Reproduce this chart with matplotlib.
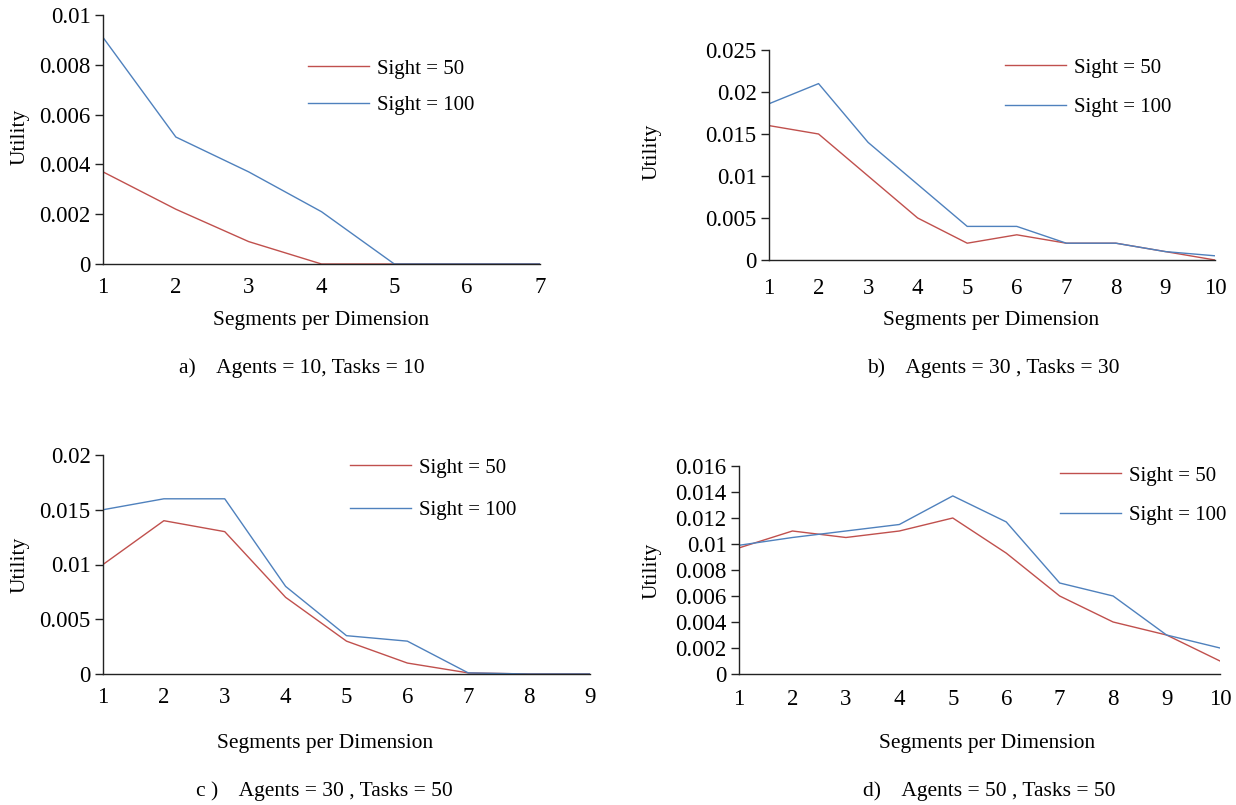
import matplotlib
matplotlib.use("Agg")
import matplotlib.pyplot as plt
from matplotlib.ticker import FixedLocator, FixedFormatter

plt.rcParams['font.family'] = ['Liberation Serif', 'DejaVu Serif']

RED = '#C0504D'
BLUE = '#4F81BD'

# Panel a: Agents = 10, Tasks = 10
a_x = [1, 2, 3, 4, 5, 6, 7]
a_s50 = [0.0037, 0.0022, 0.0009, 0.0, 0.0, 0.0, 0.0]
a_s100 = [0.0091, 0.0051, 0.0037, 0.0021, 0.0, 0.0, 0.0]
a_yticks = [0, 0.002, 0.004, 0.006, 0.008, 0.01]
a_ylabels = ['0', '0.002', '0.004', '0.006', '0.008', '0.01']

# Panel b: Agents = 30, Tasks = 30
b_x = [1, 2, 3, 4, 5, 6, 7, 8, 9, 10]
b_s50 = [0.016, 0.015, 0.010, 0.005, 0.002, 0.003, 0.002, 0.002, 0.001, 0.0]
b_s100 = [0.0186, 0.021, 0.014, 0.009, 0.004, 0.004, 0.002, 0.002, 0.001, 0.0005]
b_yticks = [0, 0.005, 0.01, 0.015, 0.02, 0.025]
b_ylabels = ['0', '0.005', '0.01', '0.015', '0.02', '0.025']

# Panel c: Agents = 30, Tasks = 50
c_x = [1, 2, 3, 4, 5, 6, 7, 8, 9]
c_s50 = [0.010, 0.014, 0.013, 0.007, 0.003, 0.001, 0.0001, 0.0, 0.0]
c_s100 = [0.015, 0.016, 0.016, 0.008, 0.0035, 0.003, 0.0001, 0.0, 0.0]
c_yticks = [0, 0.005, 0.01, 0.015, 0.02]
c_ylabels = ['0', '0.005', '0.01', '0.015', '0.02']

# Panel d: Agents = 50, Tasks = 50
d_x = [1, 2, 3, 4, 5, 6, 7, 8, 9, 10]
d_s50 = [0.0097, 0.011, 0.0105, 0.011, 0.012, 0.0093, 0.006, 0.004, 0.003, 0.001]
d_s100 = [0.0099, 0.0105, 0.011, 0.0115, 0.0137, 0.0117, 0.007, 0.006, 0.003, 0.002]
d_yticks = [0, 0.002, 0.004, 0.006, 0.008, 0.01, 0.012, 0.014, 0.016]
d_ylabels = ['0', '0.002', '0.004', '0.006', '0.008', '0.01', '0.012', '0.014', '0.016']

series_labels = ['Sight = 50', 'Sight = 100']

captions = ['a)    Agents = 10, Tasks = 10',
            'b)    Agents = 30 , Tasks = 30',
            'c )    Agents = 30 , Tasks = 50',
            'd)    Agents = 50 , Tasks = 50']

W, H = 1236, 805
fig = plt.figure(figsize=(W / 100, H / 100), dpi=100)


def px_rect(x0, x1, ytop, ybot):
    return [x0 / W, 1 - ybot / H, (x1 - x0) / W, (ybot - ytop) / H]


panels = [
    dict(rect=px_rect(103, 540, 15, 264), x=a_x, s50=a_s50, s100=a_s100,
         yt=a_yticks, yl=a_ylabels, leg=(308, 59), ls=0.8, xpad=9,
         ylab=(20, 137), xlab=(321, 320), cap=(302, 368)),
    dict(rect=px_rect(769, 1215, 50, 260), x=b_x, s50=b_s50, s100=b_s100,
         yt=b_yticks, yl=b_ylabels, leg=(1005, 58), ls=0.95, xpad=13,
         ylab=(652, 152), xlab=(991, 320), cap=(993, 368)),
    dict(rect=px_rect(103, 590, 455, 674), x=c_x, s50=c_s50, s100=c_s100,
         yt=c_yticks, yl=c_ylabels, leg=(350, 458), ls=1.1, xpad=9,
         ylab=(20, 565), xlab=(325, 743), cap=(324, 791)),
    dict(rect=px_rect(739, 1220, 466, 674), x=d_x, s50=d_s50, s100=d_s100,
         yt=d_yticks, yl=d_ylabels, leg=(1060, 466), ls=0.97, xpad=11,
         ylab=(652, 571), xlab=(987, 743), cap=(989, 791)),
]

TICK_FS = 16.5
TEXT_FS = 15.5
LEG_FS = 15
for i, p in enumerate(panels):
    ax = fig.add_axes(p['rect'])
    l1, = ax.plot(p['x'], p['s50'], color=RED, lw=1.0)
    l2, = ax.plot(p['x'], p['s100'], color=BLUE, lw=1.0)
    ax.set_xlim(p['x'][0], p['x'][-1])
    ax.set_ylim(p['yt'][0], p['yt'][-1])
    ax.set_xticks(p['x'])
    ax.set_xticklabels([str(v) for v in p['x']])
    ax.yaxis.set_major_locator(FixedLocator(p['yt']))
    ax.yaxis.set_major_formatter(FixedFormatter(p['yl']))
    for s in ['top', 'right']:
        ax.spines[s].set_visible(False)
    for s in ['left', 'bottom']:
        ax.spines[s].set_color('#222222')
        ax.spines[s].set_linewidth(1.0)
    ax.tick_params(axis='y', direction='out', length=6, width=1.0,
                   color='#222222', labelsize=TICK_FS, pad=3)
    ax.tick_params(axis='x', length=0, labelsize=TICK_FS, pad=p['xpad'])
    ax.patch.set_alpha(0)
    lx, ly = p['leg']
    ax.legend([l1, l2], series_labels, loc='upper left',
              bbox_to_anchor=(lx / W, 1 - ly / H), bbox_transform=fig.transFigure,
              frameon=False, fontsize=LEG_FS, handlelength=2.95, handletextpad=0.38,
              labelspacing=p['ls'], borderpad=0, borderaxespad=0)
    fig.text(p['ylab'][0] / W, 1 - p['ylab'][1] / H, 'Utility', rotation=90,
             ha='center', va='center', fontsize=TEXT_FS)
    fig.text(p['xlab'][0] / W, 1 - p['xlab'][1] / H, 'Segments per Dimension',
             ha='center', va='center', fontsize=TEXT_FS)
    fig.text(p['cap'][0] / W, 1 - p['cap'][1] / H, captions[i],
             ha='center', va='center', fontsize=TEXT_FS)

fig.savefig('out.png', dpi=100, facecolor='white')
